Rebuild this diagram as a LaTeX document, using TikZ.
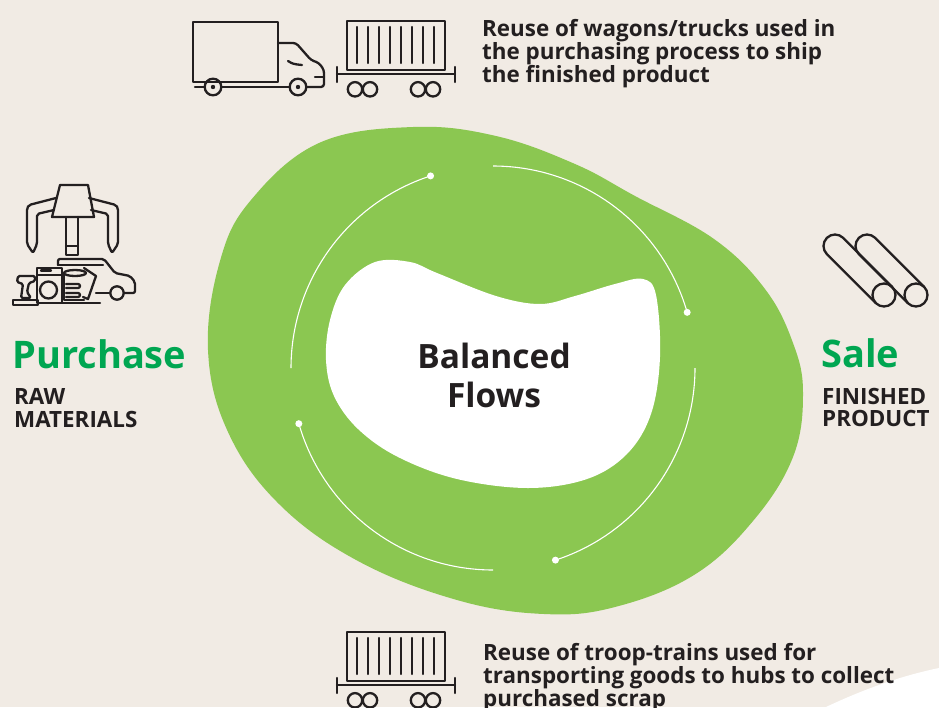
\documentclass[tikz,border=0pt]{standalone}
\usepackage{fontspec}
\setmainfont{Open Sans}
\usetikzlibrary{calc}
\definecolor{paper}{HTML}{F1EBE4}
\definecolor{leaf}{HTML}{8BC751}
\definecolor{sprout}{HTML}{00A651}
\definecolor{ink}{HTML}{231F20}
\tikzset{
  glyph/.style={draw=ink, line width=2.3pt, line join=round, line cap=round},
  ring/.style={draw=white, line width=1.1pt},
  knot/.style={circle, fill=white, inner sep=0pt, minimum size=7pt},
  caption/.style={font=\fontsize{22.4}{22.8}\selectfont\bfseries, text=ink,
    align=left, inner sep=0pt, anchor=base west},
  heading/.style={font=\fontsize{38}{40}\selectfont\bfseries, text=sprout,
    inner sep=0pt, anchor=base west},
  corelabel/.style={font=\fontsize{33.5}{39}\selectfont\bfseries, text=ink,
    align=center, inner sep=0pt, anchor=base},
  railcar/.pic={
    \draw[glyph] (0,0) rectangle (98,49);
    \foreach \bx in {10,21,32,43,54,65,76,87}
      \draw[glyph] (\bx,6) -- (\bx,42);
    \draw[glyph] (-10,53) -- (108,53);
    \draw[glyph] (-10,46) -- (-10,61);
    \draw[glyph] (108,46) -- (108,61);
    \foreach \wx in {8,23,71,86}
      \draw[glyph] (\wx,68.3) circle[radius=7.2pt];
  }
}
\begin{document}
\begin{tikzpicture}[x=1pt,y=-1pt]
% page
\fill[paper] (0,0) rectangle (939,707);
\useasboundingbox (0,0) rectangle (939,707);
\fill[white] (826,707) .. controls (862,690) and (900,676) .. (939,668) -- (939,707) -- cycle;

% green blob
\fill[leaf] plot[smooth cycle, tension=0.65] coordinates {
  (319,143) (413,127) (496,136) (575,164) (635,196) (714,239) (765,289)
  (793,343) (803,393) (793,457) (753,521) (694,575) (615,607) (544,614)
  (457,600) (358,561) (279,504) (228,432) (208,350) (220,261) (251,200)};

% white core
\fill[white] plot[smooth cycle, tension=0.6] coordinates {
  (345,285) (375,262) (410,262) (437,273) (496,296) (540,304) (575,296)
  (615,284) (643,279) (656,295) (660,357) (651,414) (627,454) (587,479)
  (528,488) (457,479) (398,457) (358,429) (334,396) (326,360) (330,320)};

% circular flow arcs
\coordinate (hub) at (493,368);
\draw[ring] plot[domain=-90:-16, samples=60] ({493+202*cos(\x)},{368+202*sin(\x)});
\draw[ring] plot[domain=0:72, samples=60] ({493+202*cos(\x)},{368+202*sin(\x)});
\draw[ring] plot[domain=90:164, samples=60] ({493+202*cos(\x)},{368+202*sin(\x)});
\draw[ring] plot[domain=180:252, samples=60] ({493+202*cos(\x)},{368+202*sin(\x)});
\node[knot] (knotA) at ($(hub)+(-16:202)$) {};
\node[knot] (knotB) at ($(hub)+(72:202)$) {};
\node[knot] (knotC) at ($(hub)+(164:202)$) {};
\node[knot] (knotD) at ($(hub)+(252:202)$) {};

% multi-line labels are placed at the baseline of their last line
\node[corelabel] (core) at (494,407) {Balanced\\Flows};

% headings and captions
\node[heading] (buy) at (12,368) {Purchase};
\node[caption] (rawmat) at (14,427.3) {RAW\\MATERIALS};
\node[heading] (sell) at (821,367) {Sale};
\node[caption] (finprod) at (822,426.8) {FINISHED\\PRODUCT};
\node[caption] (shipnote) at (482,82.3) {Reuse of wagons/trucks used in\\the purchasing process to ship\\the finished product};
\node[caption] (trainnote) at (483,706) {Reuse of troop-trains used for\\transporting goods to hubs to collect\\purchased scrap};

% delivery truck
\draw[glyph] (193,22) rectangle (278,82);
\draw[glyph, rounded corners=3pt] (278,43) -- (296,43) -- (311,60) -- (319,63) -- (324,70) -- (324,87) -- (307,87);
\draw[glyph] (195,87) -- (205,87);
\draw[glyph] (222,87) -- (290,87);
\draw[glyph] (315,77) -- (324,77);
\draw[glyph] (288,61) .. controls (293,64) .. (302,65);
\draw[glyph] (213,87) circle[radius=8.3pt];
\draw[glyph] (298,87) circle[radius=8.3pt];
\fill[ink] (213,87) circle[radius=2.2pt];
\fill[ink] (298,87) circle[radius=2.2pt];

% rail wagons
\pic at (347,21) {railcar};
\pic at (347,632) {railcar};

% claw grabbing scrap
\draw[glyph] (60,185) -- (88,185) -- (94,217) -- (52,217) -- cycle;
\draw[glyph] (66,217) -- (66,255) -- (78,255) -- (78,217);
\draw[glyph] (66,246) -- (78,246);
\draw[glyph, rounded corners=2pt] (56,198) -- (29,205) -- (27,208) -- (27,244) -- (33,253) -- (37,244) -- (37,214) -- (54,210);
\draw[glyph, rounded corners=2pt] (89,198) -- (116,205) -- (118,208) -- (118,244) -- (112,253) -- (108,244) -- (108,214) -- (91,210);
% car
\draw[glyph, rounded corners=2pt] (58,265) -- (58,259) -- (104,259) -- (115,273) -- (130,276) -- (135,282) -- (135,293) -- (124,293);
\draw[glyph] (58,265) -- (103,265);
\draw[glyph] (109,293) -- (96,293);
\draw[glyph] (117,293) circle[radius=6.7pt];
% washing machine
\draw[glyph] (37,268) rectangle (62,303);
\draw[glyph] (37,275) -- (62,275);
\draw[glyph] (41,270.5) -- (51,270.5);
\draw[glyph] (48.5,290) circle[radius=8.5pt];
% barrel
\draw[glyph] (75,273) ellipse[x radius=11pt, y radius=3pt];
\draw[glyph] (64,273) -- (64,300) -- (84,300);
\draw[glyph, rounded corners=2pt] (66,284) -- (80,284) -- (80,288) -- (66,288);
\draw[glyph, rounded corners=2pt] (66,293) -- (80,293) -- (80,297) -- (66,297);
% plank
\draw[glyph] (84,268) -- (96,276) -- (88,299) -- (83,297);
% drill
\draw[glyph, rounded corners=1.5pt] (18,276) -- (35,276) -- (35,281) -- (29,283) -- (27,292) -- (31,298) -- (21,298) -- (23,284) -- (17,282) -- cycle;
\draw[glyph] (13,300) rectangle (38,305);
\draw[glyph] (62,303) -- (100,303);

% steel pipes
\draw[glyph] (892.13,286.87) -- (843.13,237.87) arc[start angle=45, end angle=225, radius=11.5pt] -- (875.87,303.13);
\draw[glyph] (884,295) circle[radius=11.5pt];
\draw[glyph] (924.13,286.87) -- (875.13,237.87) arc[start angle=45, end angle=225, radius=11.5pt] -- (907.87,303.13);
\draw[glyph] (916,295) circle[radius=11.5pt];
\end{tikzpicture}
\end{document}
